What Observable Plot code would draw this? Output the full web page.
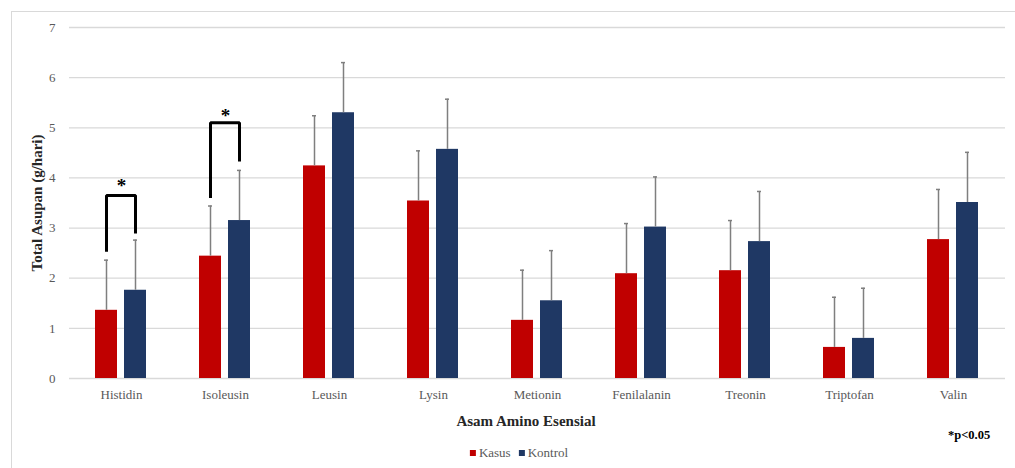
<!DOCTYPE html>
<html>
<head>
<meta charset="utf-8">
<script src="https://cdn.jsdelivr.net/npm/d3@7"></script>
<script src="https://cdn.jsdelivr.net/npm/@observablehq/plot@0.6"></script>
<style>
  html, body { margin: 0; padding: 0; background: #fff; }
  #wrap { position: relative; width: 1015px; height: 468px; overflow: hidden; font-family: "Liberation Serif", "DejaVu Serif", serif; }
  #frame { position: absolute; left: 11px; top: 11px; width: 1100px; height: 600px; border-left: 1px solid #d9d9d9; border-top: 1px solid #d9d9d9; }
  #chart { position: absolute; left: 0; top: 0; }
  .ytitle { position: absolute; left: 37px; top: 202.5px; transform: translate(-50%, -50%) rotate(-90deg); white-space: nowrap; font-weight: bold; font-size: 15px; color: #262626; font-family: "Liberation Serif", serif; }
  .xtitle { position: absolute; left: 526px; top: 421px; transform: translate(-50%, -50%); white-space: nowrap; font-weight: bold; font-size: 15px; color: #262626; font-family: "Liberation Serif", serif; }
  .pnote { position: absolute; left: 948px; top: 435px; transform: translateY(-50%); white-space: nowrap; font-weight: bold; font-size: 12.5px; color: #000; font-family: "Liberation Serif", serif; }
  .legend { position: absolute; left: 519px; top: 453px; transform: translate(-50%, -50%); white-space: nowrap; font-size: 13px; color: #595959; display: flex; align-items: center; font-family: "Liberation Serif", serif; }
  .legend .sw { display: inline-block; width: 6px; height: 6px; margin-right: 3px; }
  .legend .item { display: inline-flex; align-items: center; margin: 0 4px; }
</style>
</head>
<body>
<div id="wrap">
  <div id="frame"></div>
  <div id="chart"></div>
  <div class="ytitle">Total Asupan (g/hari)</div>
  <div class="xtitle">Asam Amino Esensial</div>
  <div class="pnote">*p&lt;0.05</div>
  <div class="legend" id="legend"></div>
</div>
<script>
const categories = ["Histidin", "Isoleusin", "Leusin", "Lysin", "Metionin", "Fenilalanin", "Treonin", "Triptofan", "Valin"];
const seriesNames = ["Kasus", "Kontrol"];
const seriesColors = ["#C00000", "#1F3864"];
const kasus   = [1.36, 2.44, 4.24, 3.54, 1.16, 2.09, 2.15, 0.62, 2.77];
const kontrol = [1.76, 3.15, 5.30, 4.57, 1.55, 3.02, 2.73, 0.80, 3.51];
const kasusErr   = [1.0, 1.0, 1.0, 1.0, 1.0, 1.0, 1.0, 1.0, 1.0];
const kontrolErr = [1.0, 1.0, 1.0, 1.0, 1.0, 1.0, 1.0, 1.0, 1.0];
const yTicks = [0, 1, 2, 3, 4, 5, 6, 7];

// significance brackets
const sigCategories = ["Histidin", "Isoleusin"];
const bracketTop = [3.65, 5.10];
const bracketLeftBottom = [2.53, 3.60];
const bracketRightBottom = [2.89, 4.33];
const starY = [3.89, 5.28];

const rows = categories.flatMap((c, i) => [
  {cat: c, s: seriesNames[0], v: kasus[i], e: kasusErr[i]},
  {cat: c, s: seriesNames[1], v: kontrol[i], e: kontrolErr[i]}
]);
const bracketPts = sigCategories.flatMap((c, i) => [
  {cat: c, s: seriesNames[0], y: bracketLeftBottom[i]},
  {cat: c, s: seriesNames[0], y: bracketTop[i]},
  {cat: c, s: seriesNames[1], y: bracketTop[i]},
  {cat: c, s: seriesNames[1], y: bracketRightBottom[i]}
]);
const stars = sigCategories.map((c, i) => ({cat: c, y: starY[i]}));

const chart = Plot.plot({
  width: 1015,
  height: 410,
  marginLeft: 66,
  marginRight: 7,
  marginTop: 27,
  marginBottom: 32,
  style: {fontFamily: "'Liberation Serif', serif", fontSize: "13px", color: "#595959", background: "transparent", overflow: "visible"},
  fx: {domain: categories, padding: 0, axis: "bottom", tickSize: 0, tickPadding: 11, label: null},
  x: {domain: seriesNames, paddingInner: 0.23, paddingOuter: 0.85, axis: null},
  y: {domain: [0, 7], ticks: yTicks, tickFormat: d3.format("d"), tickSize: 0, tickPadding: 14, label: null},
  color: {domain: seriesNames, range: seriesColors},
  marks: [
    Plot.ruleY(yTicks, {stroke: "#d9d9d9", strokeWidth: 1.3}),
    Plot.barY(rows, {fx: "cat", x: "s", y: "v", fill: "s"}),
    Plot.ruleX(rows, {fx: "cat", x: "s", y1: "v", y2: d => d.v + d.e, stroke: "#7f7f7f", strokeWidth: 1.5}),
    Plot.tickY(rows, {fx: "cat", x: "s", y: d => d.v + d.e, stroke: "#7f7f7f", strokeWidth: 1.5, insetLeft: 9, insetRight: 9}),
    Plot.line(bracketPts, {fx: "cat", x: "s", y: "y", z: "cat", stroke: "#000", strokeWidth: 3, strokeLinejoin: "miter", strokeLinecap: "butt"}),
    Plot.text(stars, {fx: "cat", y: "y", text: () => "*", fontSize: 19, fontWeight: "bold", fill: "#000", dy: 2})
  ]
});
document.getElementById("chart").appendChild(chart);

const legend = document.getElementById("legend");
seriesNames.forEach((name, i) => {
  const item = document.createElement("span");
  item.className = "item";
  const sw = document.createElement("span");
  sw.className = "sw";
  sw.style.background = seriesColors[i];
  item.appendChild(sw);
  item.appendChild(document.createTextNode(name));
  legend.appendChild(item);
});
</script>
</body>
</html>
